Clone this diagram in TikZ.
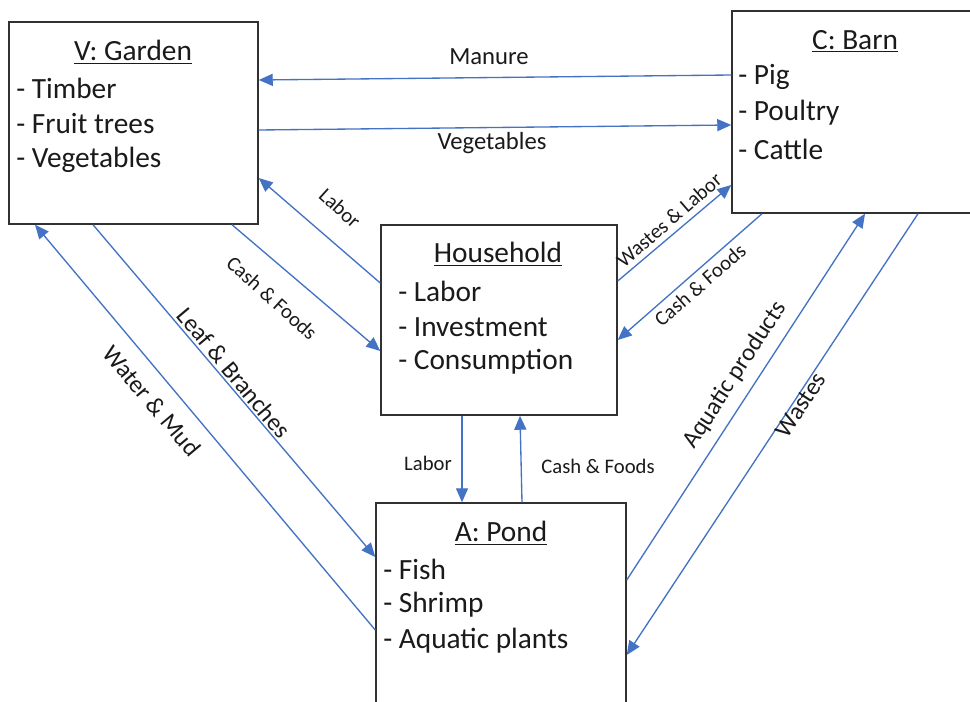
\documentclass[tikz,border=0pt]{standalone}
\usepackage{fontspec}
\setmainfont{Carlito}
\usetikzlibrary{arrows.meta,calc}
\definecolor{flow}{HTML}{4472C4}
\definecolor{ink}{HTML}{1A1A1A}
\tikzset{
  box/.style={draw=ink!90, line width=1.1pt, fill=white, inner sep=0pt, rectangle},
  boxtitle/.style={font=\fontsize{22}{26}\selectfont, text=ink, inner sep=0pt},
  boxitem/.style={font=\fontsize{22}{26}\selectfont, text=ink, inner sep=0pt, anchor=west},
  flowline/.style={draw=flow, line width=1pt, -{Triangle[length=10.5pt,width=9pt]}},
  biglab/.style={font=\fontsize{18.5}{21}\selectfont, text=ink, inner sep=0pt},
  smalllab/.style={font=\fontsize{15.5}{18}\selectfont, text=ink, inner sep=0pt}
}
\begin{document}
\begin{tikzpicture}[x=0.75pt,y=-0.75pt]
\useasboundingbox (0,0) rectangle (970,702);
\clip (0,0) rectangle (970,702);
\fill[white] (0,0) rectangle (970,702);

% boxes
\node[box, minimum width=249*0.75pt, minimum height=202*0.75pt] (garden) at (133.5,123) {};
\node[box, minimum width=248*0.75pt, minimum height=202*0.75pt] (barn) at (856,112) {};
\node[box, minimum width=236*0.75pt, minimum height=190*0.75pt] (household) at (499,320) {};
\node[box, minimum width=250*0.75pt, minimum height=204*0.75pt] (pond) at (501,605) {};

% box texts
\node[boxtitle] (gt) at (133,52) {\underline{V: Garden}};
\node[boxitem] (g1) at (16,88) {- Timber};
\node[boxitem] (g2) at (16,124) {- Fruit trees};
\node[boxitem] (g3) at (16,160) {- Vegetables};

\node[boxtitle] (bt) at (855,41) {\underline{C: Barn}};
\node[boxitem] (b1) at (738,77) {- Pig};
\node[boxitem] (b2) at (738,113) {- Poultry};
\node[boxitem] (b3) at (738,149) {- Cattle};

\node[boxtitle] (ht) at (498,254) {\underline{Household}};
\node[boxitem] (h1) at (398,291) {- Labor};
\node[boxitem] (h2) at (398,327) {- Investment};
\node[boxitem] (h3) at (398,362) {- Consumption};

\node[boxtitle] (pt) at (501,533) {\underline{A: Pond}};
\node[boxitem] (p1) at (383,569) {- Fish};
\node[boxitem] (p2) at (383,605) {- Shrimp};
\node[boxitem] (p3) at (383,641) {- Aquatic plants};

% connectors
\draw[flowline] (barn.west |- 0,75) -- (garden.east |- 0,80);
\draw[flowline] (garden.east |- 0,130) -- (barn.west |- 0,125);
\draw[flowline] (household.west |- 0,283) -- (garden.east |- 0,178);
\draw[flowline] (garden.south -| 232,0) -- (household.west |- 0,351);
\draw[flowline] (garden.south -| 93,0) -- (pond.west |- 0,557);
\draw[flowline] (pond.west |- 0,630) -- (garden.south -| 35,0);
\draw[flowline] (household.east |- 0,281) -- (barn.west |- 0,185);
\draw[flowline] (barn.south -| 762,0) -- (household.east |- 0,340);
\draw[flowline] (household.south -| 462,0) -- (pond.north -| 462,0);
\draw[flowline] (pond.north -| 522,0) -- (household.south -| 520,0);
\draw[flowline] (pond.east |- 0,580) -- (barn.south -| 865,0);
\draw[flowline] (barn.south -| 918,0) -- (pond.east |- 0,655);

% labels
\node[biglab] (lman) at (489,57) {Manure};
\node[biglab] (lveg) at (492,143) {Vegetables};
\node[smalllab, rotate=-42] (llab1) at (340,208) {Labor};
\node[smalllab, rotate=-42] (lcf1) at (272,298) {Cash \& Foods};
\node[biglab, rotate=-50] (lleaf) at (234,373) {Leaf \& Branches};
\node[biglab, rotate=-50] (lwat) at (152,401) {Water \& Mud};
\node[smalllab, rotate=41] (lwl) at (669,220) {Wastes \& Labor};
\node[smalllab, rotate=41] (lcf2) at (700,285) {Cash \& Foods};
\node[biglab, rotate=57] (laq) at (735,375) {Aquatic products};
\node[biglab, rotate=57] (lwas) at (801,405) {Wastes};
\node[smalllab] (llab2) at (428,463) {Labor};
\node[smalllab] (lcf3) at (598,466) {Cash \& Foods};
\end{tikzpicture}
\end{document}
